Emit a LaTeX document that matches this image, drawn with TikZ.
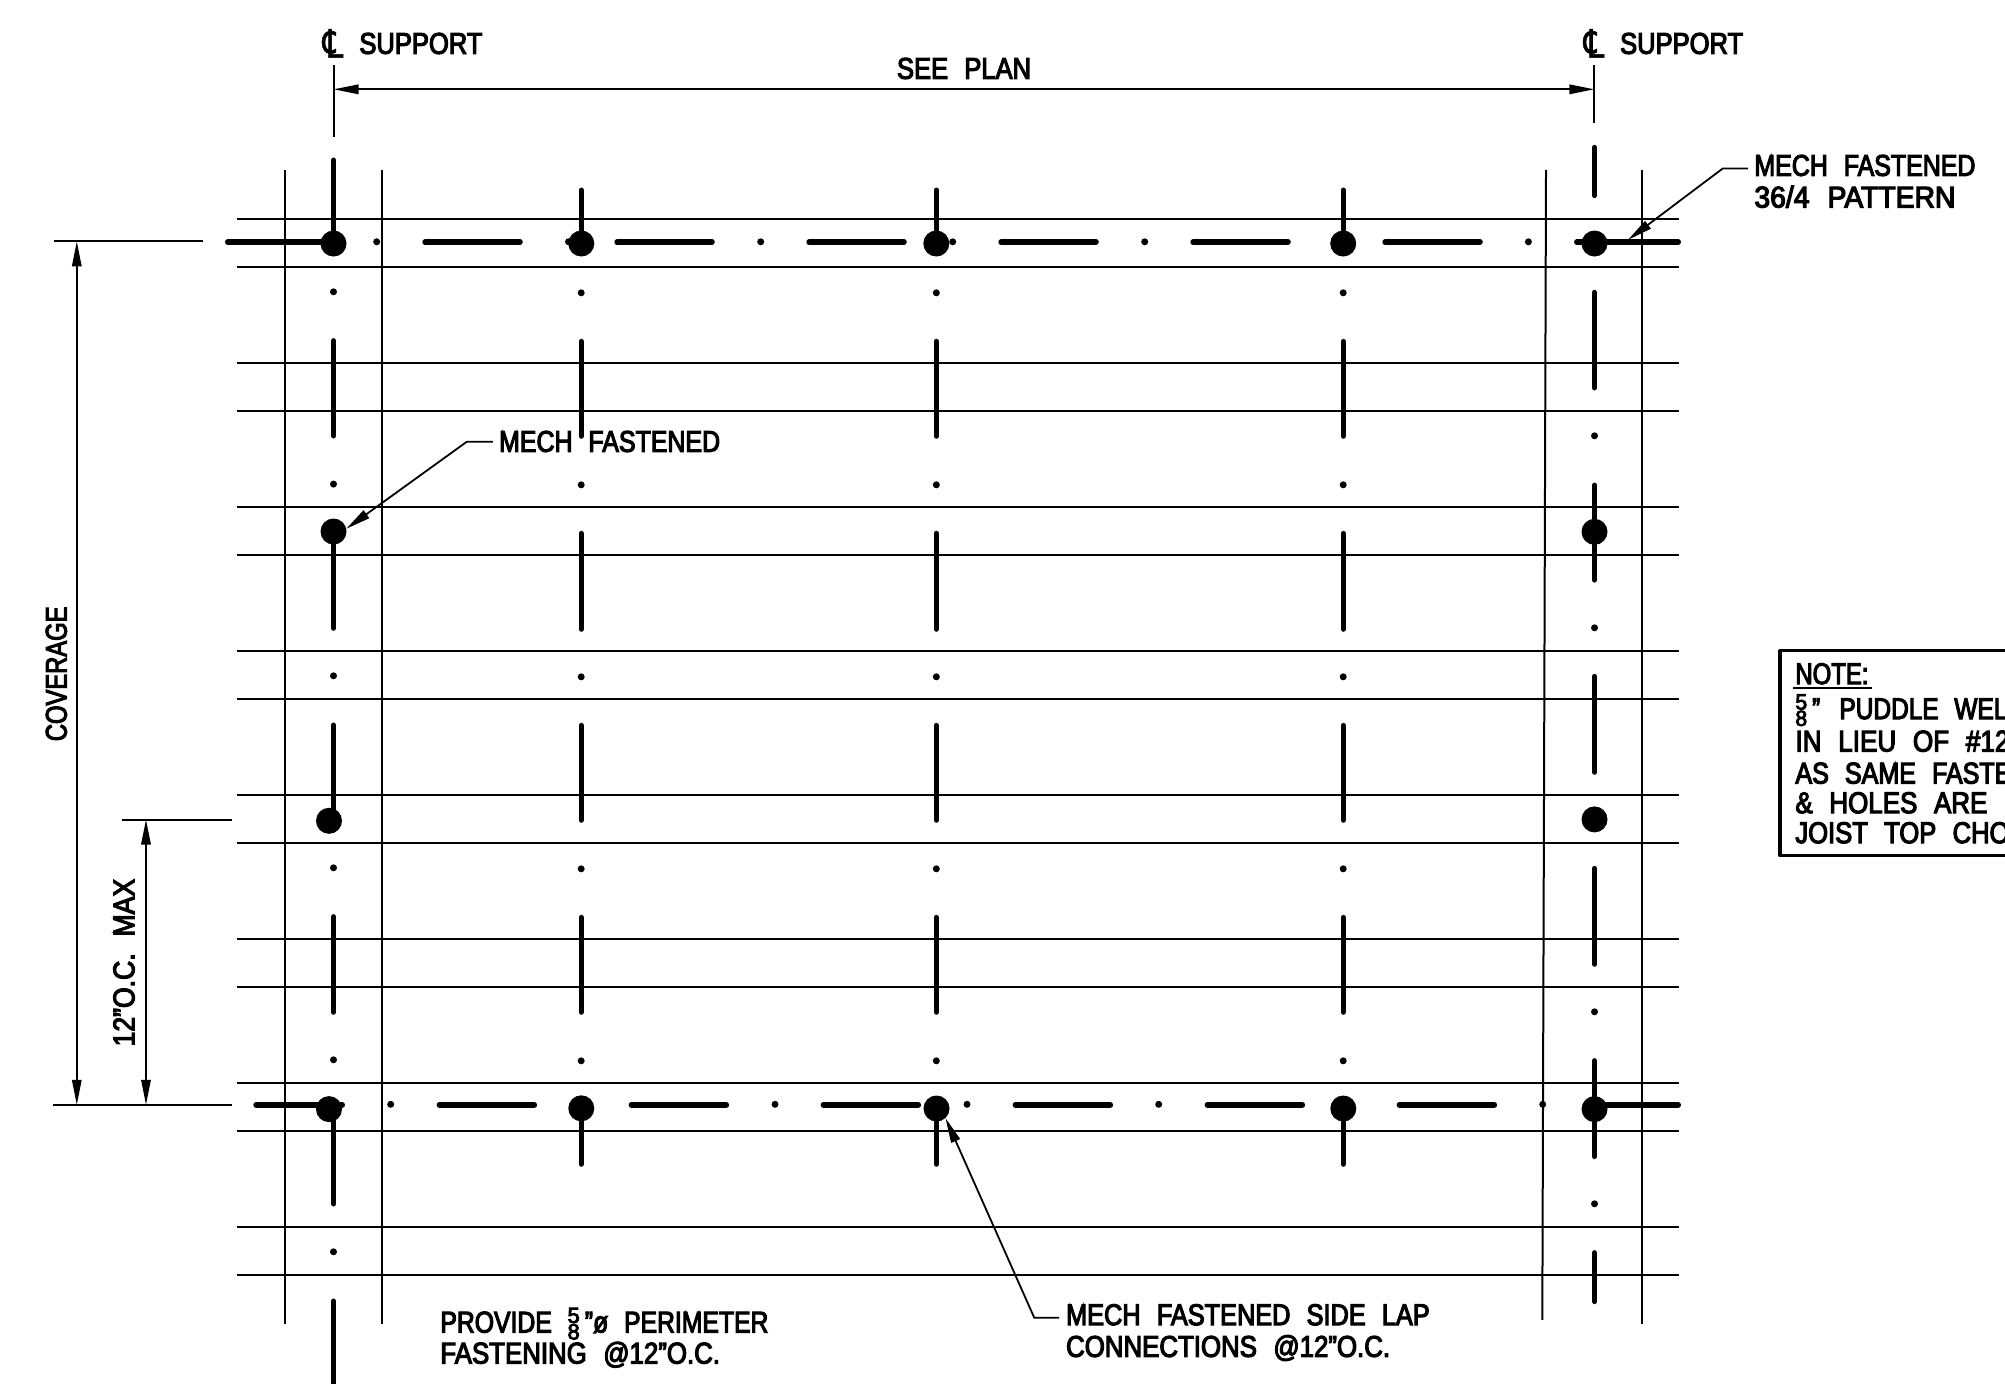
\documentclass[tikz,border=0pt]{standalone}
\usepackage{fontspec}
\usepackage{graphicx}
\usetikzlibrary{arrows.meta}
\setmainfont[FakeStretch=0.8,WordSpace=2.3,FakeBold=3.5]{Liberation Sans}
\newfontfamily\symf[FakeBold=1.5]{DejaVu Sans}
\newcommand\fit[2]{\resizebox{#1pt}{\height}{#2}}
\newcommand\fivee{\rlap{\raisebox{4.8pt}{\fontsize{11}{11}\selectfont\scalebox{1.2}[1]{5}}}\raisebox{-3.4pt}{\fontsize{11}{11}\selectfont\scalebox{1.2}[1]{8}}\,}
\newcommand\clsym{{\symf\fontsize{17}{17}\selectfont\scalebox{0.95}[1.15]{℄}}}
\tikzset{
 thinl/.style={line width=1pt,black},
 dimline/.style={line width=0.9pt,black,{Triangle[length=12.5pt,width=4.7pt]}-{Triangle[length=12.5pt,width=4.7pt]}},
 leader/.style={line width=0.9pt,black,-{Triangle[length=12.5pt,width=4.7pt]}},
 heavy/.style={line width=2.7pt,line cap=round,black,shorten >=1.35pt,shorten <=1.35pt},
 bigdot/.style={circle,fill=black,inner sep=0pt,minimum size=13pt},
 smalldot/.style={circle,fill=black,inner sep=0pt,minimum size=3.5pt},
 txt/.style={inner sep=0pt,anchor=base west,xshift=-0.5pt,font=\fontsize{15}{15}\selectfont},
 vtxt/.style={inner sep=0pt,anchor=base west,rotate=90,font=\fontsize{15}{15}\selectfont},
 notebox/.style={line width=1.6pt,black,line join=round},
}
\begin{document}
\begin{tikzpicture}[x=0.5pt,y=-0.5pt]
\useasboundingbox (0,0) rectangle (2005,1383);
\begin{scope}[yshift=-0.4pt]
% deck sheet lines
\foreach \ya in {218,266,362,410,506,554,650.5,698.5,794.5,842.5,938.5,986.5,1082.5,1130.5,1226.5,1274.5}
  \draw[thinl] (236.7,\ya) -- (1679,\ya);
% support lines
\draw[thinl] (285,169) -- (285,1323);
\draw[thinl] (381.7,169) -- (381.7,1323);
\draw[thinl] (1546,169) -- (1542.3,1319);
\draw[thinl] (1642.3,169) -- (1642.3,1322.7);
% top row dashes
\draw[heavy] (225,241.3) -- (333.5,241.3);
\draw[heavy] (1574,241.3) -- (1681,241.3);
\foreach \xa in {422.3,614.3,806.3,998.3,1190.3,1382.3}
  \draw[heavy] (\xa,241.3) -- ++(100.5,0);
% bottom row dashes
\draw[heavy] (253.3,1104) -- (345,1104);
\draw[heavy] (1594.5,1104) -- (1681,1104);
\foreach \xa in {436.6,628.6,820.6,1012.6,1204.6,1396.6}
  \draw[heavy] (\xa,1104) -- ++(100.5,0);
% vertical bars: left column
\foreach \ya/\yb in {156.7/242,337.3/437.7,530.7/630,721.7/820,913.3/1014,1108/1205.7,1297.7/1395}
  \draw[heavy] (333.5,\ya) -- (333.5,\yb);
% interior columns
\foreach \xa in {581.2,936.3,1343.2}
  \foreach \ya/\yb in {186.7/242,338/438,530/631,722/822,914/1014,1107/1166}
    \draw[heavy] (\xa,\ya) -- (\xa,\yb);
% right column
\foreach \ya/\yb in {144/197.3,289/389.6,481.8/581.8,673/774,865/966,1057.3/1158.3,1249.3/1303.3}
  \draw[heavy] (1594.5,\ya) -- (1594.5,\yb);
% big dots
\foreach \xa/\ya [count=\n] in {333.5/242.7,581.3/242.7,936.3/242.7,1343.2/242.7,1594.5/242.7,333.5/530.7,1594.5/531,329/820,1594.5/818.6,329/1108.3,581.3/1107.5,936.5/1107.7,1343.3/1107.7,1594.5/1108.3}
  \node[bigdot] (big\n) at (\xa,\ya) {};
% small dots along rows
\foreach \xa [count=\n] in {376.7,568.5,760.7,952.7,1144.7,1528.4}
  \node[smalldot] (rt\n) at (\xa,241) {};
\foreach \xa [count=\n] in {390.7,775,967,1158.7,1542.7}
  \node[smalldot] (rb\n) at (\xa,1103.5) {};
% small dots along columns
\foreach \ya [count=\n] in {291,483.3,675,867,1059,1251}
  \node[smalldot] (cl\n) at (333.5,\ya) {};
\foreach \xa [count=\m] in {581.2,936.3,1343.2}
  \foreach \ya [count=\n] in {292,484,676,868,1060}
    \node[smalldot] (c\m d\n) at (\xa,\ya) {};
\foreach \ya [count=\n] in {435,627,1011,1203}
  \node[smalldot] (cr\n) at (1594.5,\ya) {};
% top dimension
\coordinate (supl) at (333.5,88.5);
\coordinate (supr) at (1594.4,88.5);
\draw[thinl] (333.5,64) -- (333.5,136);
\draw[thinl] (1594.4,64) -- (1594.4,122);
\draw[dimline] (supl) -- (supr);
\node[txt] (seeplan) at (897.6,78) {\fit{67}{SEE PLAN}};
\node[inner sep=0pt] (cl1sym) at (333,42.5) {\clsym};
\node[txt] (sup1) at (360,53) {\fit{61.5}{SUPPORT}};
\node[inner sep=0pt] (cl2sym) at (1594,42.5) {\clsym};
\node[txt] (sup2) at (1620.7,53) {\fit{61.5}{SUPPORT}};
% left dimensions
\coordinate (covt) at (76.8,240.5);
\coordinate (covb) at (76.8,1104);
\coordinate (ot) at (146,818.7);
\coordinate (ob) at (146,1104);
\draw[thinl] (53.7,240.5) -- (203.3,240.5);
\draw[thinl] (52.7,1104) -- (232,1104);
\draw[thinl] (121.7,818.7) -- (232,818.7);
\draw[dimline] (covt) -- (covb);
\draw[dimline] (ot) -- (ob);
\node[vtxt] (coverage) at (66.7,740.7) {\fit{67.3}{COVERAGE}};
\node[vtxt] (ocmax) at (134.3,1046) {\fit{83.8}{12”O.C. MAX}};
% callouts
\node[txt] (mf1) at (1755,175) {\fit{110.5}{MECH FASTENED}};
\node[txt] (mf2) at (1755,206.7) {\fit{100.5}{36/4 PATTERN}};
\coordinate (e1a) at (1748,167.7);
\coordinate (e1b) at (1722.7,167.7);
\coordinate (t1) at (1628,239);
\draw[leader] (e1a) -- (e1b) -- (t1);
\node[txt] (mf3) at (499.7,451) {\fit{110.5}{MECH FASTENED}};
\coordinate (e2a) at (492.8,441);
\coordinate (e2b) at (466.7,441);
\coordinate (t2) at (346.2,528);
\draw[leader] (e2a) -- (e2b) -- (t2);
\node[txt] (mf4) at (1066.7,1324.3) {\fit{181.8}{MECH FASTENED SIDE LAP}};
\node[txt] (mf5) at (1066.7,1356) {\fit{162}{CONNECTIONS @12”O.C.}};
\coordinate (e3a) at (1059,1317);
\coordinate (e3b) at (1034.3,1317);
\coordinate (t3) at (945.5,1117.3);
\draw[leader] (e3a) -- (e3b) -- (t3);
\node[txt] (prov) at (441,1331.7) {\fit{164}{PROVIDE \fivee”ø PERIMETER}};
\node[txt] (fast) at (441,1362.7) {\fit{139.8}{FASTENING @12”O.C.}};
% note box
\draw[notebox] (2005,650) -- (1780,650) -- (1780,855) -- (2005,855);
\begin{scope}
\clip (1780,640) rectangle (2005,860);
\node[txt] (note) at (1796,683.3) {\fit{36.5}{NOTE:}};
\draw[line width=1.2pt] (1793,687.3) -- (1872,687.3);
\node[txt] (n1a) at (1796,718.3) {\fivee”};
\node[txt] (n1) at (1840,718.3) {\fit{84}{PUDDLE WEL}};
\node[txt] (n2) at (1796,750.7) {\fit{107}{IN LIEU OF \#12}};
\node[txt] (n3) at (1796,782.7) {\fit{108}{AS SAME FASTE}};
\node[txt] (n4) at (1796,812.3) {\fit{96}{\& HOLES ARE}};
\node[txt] (n5) at (1796,842.3) {\fit{107}{JOIST TOP CHO}};
\end{scope}
\end{scope}
\end{tikzpicture}
\end{document}
